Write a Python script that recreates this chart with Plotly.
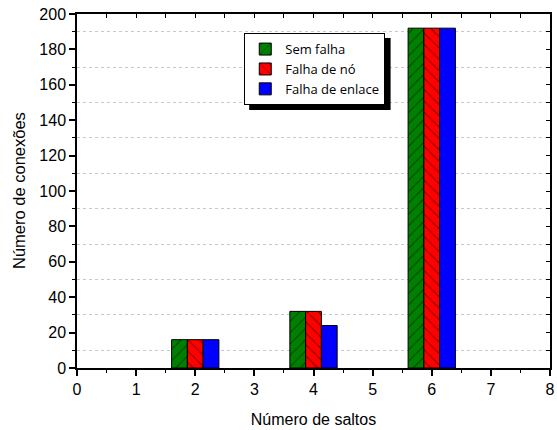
import plotly.graph_objects as go

# Number of hops and connection counts per failure scenario
saltos = [2, 4, 6]
sem_falha = [16, 32, 192]
falha_no = [16, 32, 192]
falha_enlace = [16, 24, 192]

series = [
    ("Sem falha", sem_falha, "#008000", "/"),
    ("Falha de nó", falha_no, "#ff0000", "\\"),
    ("Falha de enlace", falha_enlace, "#0000ff", ""),
]

fig = go.Figure()
for name, vals, color, hatch in series:
    fig.add_trace(go.Bar(
        x=saltos, y=vals, name=name,
        marker=dict(
            color=color,
            line=dict(color="black", width=1),
            pattern=dict(shape=hatch, fgcolor="black", bgcolor=color,
                         size=8, solidity=0.12, fillmode="overlay"),
        ),
    ))

# Mirror axes on top/right with inward ticks
fig.add_trace(go.Scatter(x=[None], y=[None], xaxis="x2", yaxis="y2",
                         showlegend=False, hoverinfo="skip"))

tick_font = dict(family="Arial", size=16, color="black")

fig.update_layout(
    width=557, height=430,
    margin=dict(l=77, r=2, t=14, b=62),
    paper_bgcolor="white", plot_bgcolor="white",
    barmode="group", bargap=0.6, bargroupgap=0,
    showlegend=True,
    legend=dict(
        x=0.3536, y=0.946, xanchor="left", yanchor="top",
        bgcolor="white", bordercolor="black", borderwidth=1,
        font=dict(family="Open Sans", size=13, color="black"),
        tracegroupgap=0, itemwidth=30,
    ),
    xaxis=dict(
        range=[0, 8], dtick=1, tick0=0,
        showline=True, linecolor="black", linewidth=1.5,
        ticks="outside", ticklen=6, tickwidth=1.5, tickcolor="black",
        minor=dict(dtick=0.5, ticks="outside", ticklen=3, tickcolor="black", tickwidth=1),
        showgrid=False, zeroline=False,
        tickfont=tick_font, ticklabeloverflow="allow",
        title=dict(text="Número de saltos",
                   font=dict(family="Arial", size=16, color="black"), standoff=17),
    ),
    yaxis=dict(
        range=[0, 200], dtick=20, tick0=0,
        showline=True, linecolor="black", linewidth=1.5,
        ticks="outside", ticklen=6, tickwidth=1.5, tickcolor="black",
        minor=dict(dtick=10, ticks="outside", ticklen=3, tickcolor="black", tickwidth=1,
                   showgrid=True, gridcolor="#c8c8c8", griddash="dot", gridwidth=1),
        showgrid=False, zeroline=False,
        tickfont=tick_font,
    ),
    xaxis2=dict(
        overlaying="x", side="top", range=[0, 8], dtick=0.5,
        showline=True, linecolor="black", linewidth=1.5,
        ticks="inside", ticklen=4, tickcolor="black", tickwidth=1,
        showticklabels=False, showgrid=False, zeroline=False,
    ),
    yaxis2=dict(
        overlaying="y", side="right", range=[0, 200], dtick=10,
        showline=True, linecolor="black", linewidth=1.5,
        ticks="inside", ticklen=4, tickcolor="black", tickwidth=1,
        showticklabels=False, showgrid=False, zeroline=False,
    ),
)

# Y axis title, placed close to the page edge
fig.add_annotation(text="Número de conexões", xref="paper", yref="paper",
                   x=0, y=0.5, xanchor="center", yanchor="middle",
                   xshift=-58, textangle=-90, showarrow=False,
                   font=dict(family="Arial", size=16.5, color="black"))

# Drop shadow behind the legend box
fig.add_shape(type="rect", xref="paper", yref="paper",
              x0=0.364, x1=0.663, y0=0.729, y1=0.932,
              fillcolor="black", line=dict(width=0), layer="above")

fig.write_html("out.html")
